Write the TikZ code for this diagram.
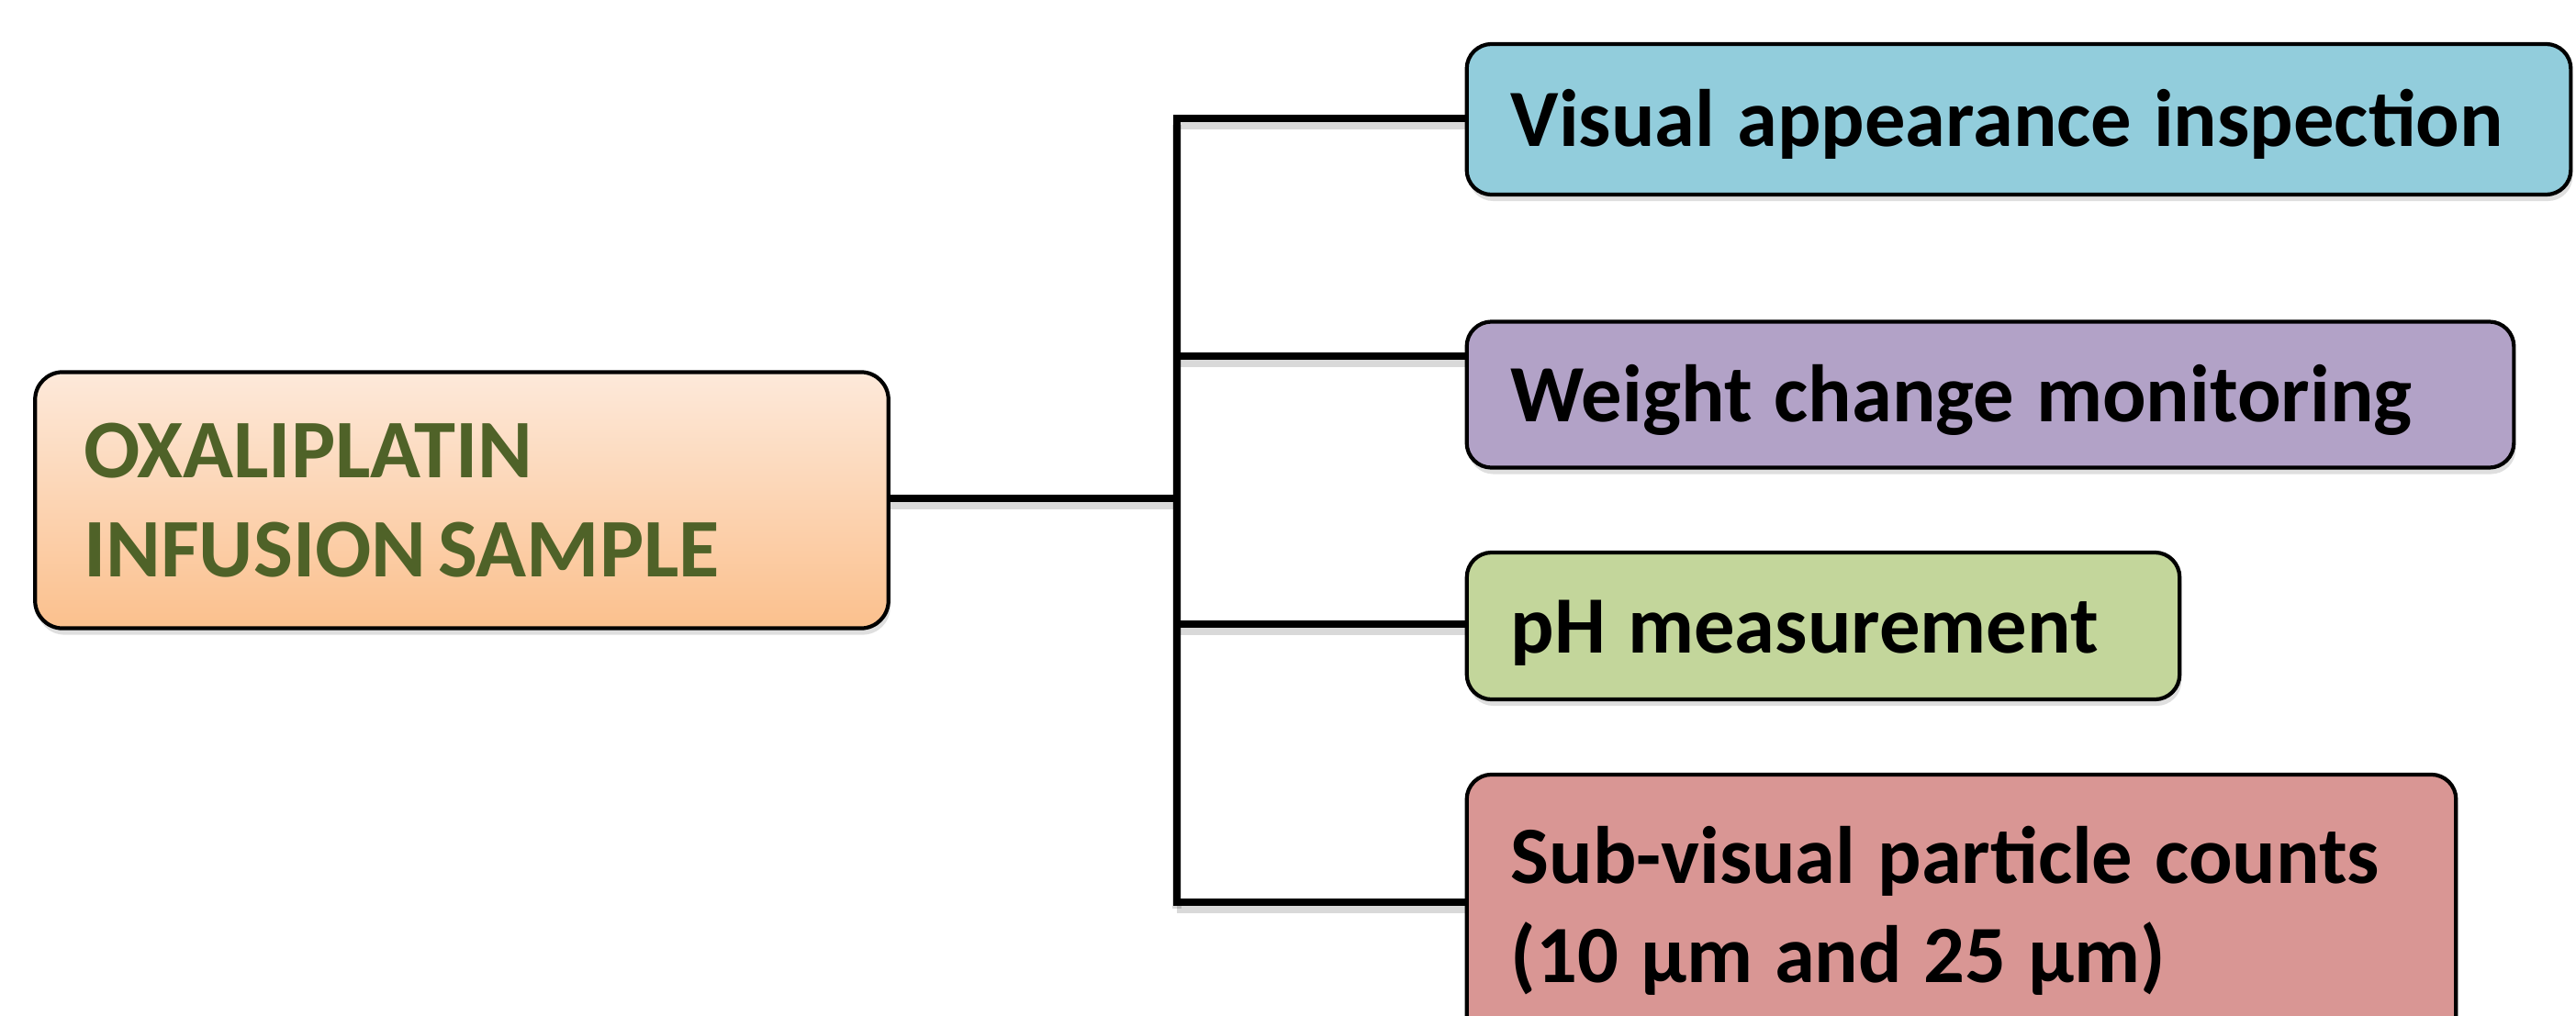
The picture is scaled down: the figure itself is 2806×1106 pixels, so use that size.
\documentclass[tikz,border=0pt]{standalone}
\usepackage{fontspec}
\setmainfont{Carlito}
\usetikzlibrary{shadows}
\newcommand\wgap{\hspace{0.27em}}
\newcommand\tgap{\hspace{0.14em}}
\definecolor{cblue}{HTML}{92CDDC}
\definecolor{cpurple}{HTML}{B2A2C7}
\definecolor{cgreen}{HTML}{C3D69B}
\definecolor{cred}{HTML}{D99694}
\definecolor{ctop}{HTML}{FDE9DA}
\definecolor{cbot}{HTML}{FBC08D}
\definecolor{olive}{HTML}{4F6228}
\tikzset{
  box/.style={draw=black, line width=1.2pt, rounded corners=0.27cm,
    inner xsep=0.48cm, inner ysep=0pt, align=left,
    font={\fontsize{25.2pt}{30.6pt}\selectfont\bfseries},
    drop shadow={shadow xshift=0.02cm, shadow yshift=-0.07cm, opacity=0.25}},
  oneline/.style={text height=0.8cm, text depth=0.22cm},
  wire/.style={line width=2.3pt, line cap=rect,
    preaction={draw=black, opacity=0.15, line width=3pt, transform canvas={yshift=-0.07cm}}}
}
\begin{document}
\begin{tikzpicture}[x=0.01cm, y=-0.01cm]
\fill[white] (0,0) rectangle (2806,1106);
\useasboundingbox (0,0) rectangle (2806,1106);
\clip (0,0) rectangle (2806,1106);

\node[box, rounded corners=0.3cm, top color=ctop, bottom color=cbot, text=olive,
  text width=8.23cm, inner xsep=0.53cm, minimum height=2.79cm,
  font={\fontsize{25.8pt}{30.7pt}\selectfont\bfseries}]
  (L) at (503,545) {OXALIPLATIN\\INFUSION\tgap SAMPLE};

\node[box, oneline, fill=cblue, text width=11.06cm, minimum height=1.64cm]
  (B1) at (2199,130) {Visual\wgap appearance\wgap inspection};
\node[box, oneline, fill=cpurple, text width=10.44cm, minimum height=1.59cm]
  (B2) at (2168,430) {Weight\wgap change\wgap monitoring};
\node[box, oneline, fill=cgreen, text width=6.80cm, minimum height=1.60cm]
  (B3) at (1986,682) {pH\wgap measurement};
\node[box, fill=cred, text width=9.81cm, minimum height=2.96cm]
  (B4) at (2136.5,992) {Sub-visual\wgap particle\wgap counts\\(10\wgap µm\wgap and\wgap 25\wgap µm)};

\coordinate (j0) at (1282,543);
\coordinate (j1) at (1282,129);
\coordinate (j2) at (1282,388);
\coordinate (j3) at (1282,680);
\coordinate (j4) at (1282,983);

\draw[wire] (L.east |- j0) -- (j0);
\draw[wire] (j1) -- (j4);
\draw[wire] (j1) -- (j1 -| B1.west);
\draw[wire] (j2) -- (j2 -| B2.west);
\draw[wire] (j3) -- (j3 -| B3.west);
\draw[wire] (j4) -- (j4 -| B4.west);
\end{tikzpicture}
\end{document}
